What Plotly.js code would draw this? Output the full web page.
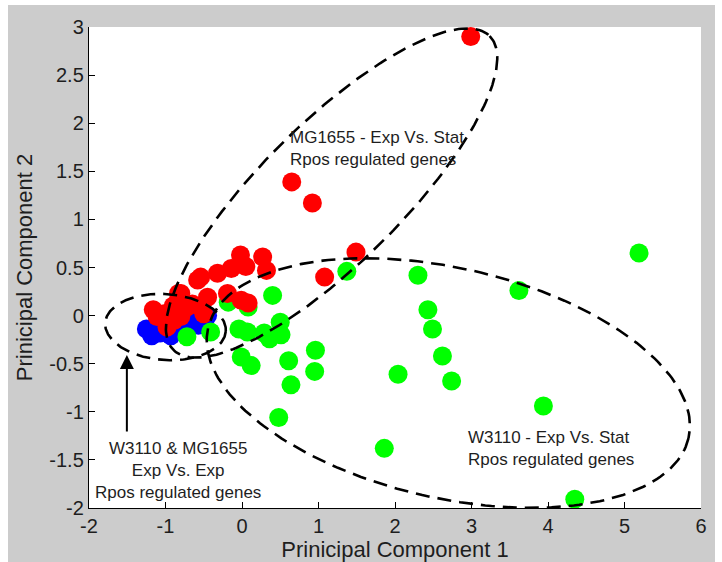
<!DOCTYPE html>
<html>
<head>
<meta charset="utf-8">
<script src="https://cdn.plot.ly/plotly-3.0.1.min.js"></script>
<style>
  html, body { margin: 0; padding: 0; background: #ffffff; }
  #chart { position: absolute; left: 8px; top: 5px; width: 707px; height: 557px; }
</style>
</head>
<body>
<div id="chart"></div>
<script>
// ---------- data ----------
const blueX = [-1.25, -1.18, -1.07, -0.93, -0.78, -0.64, -0.52, -0.45, -0.68, -1.12, -0.86, -0.57, -0.98];
const blueY = [-0.14, -0.21, -0.18, -0.21, -0.16, -0.09, -0.04, 0.00, 0.01, -0.11, -0.12, -0.10, -0.10];

const greenX = [5.19, 3.62, 2.30, 2.43, 2.49, 2.62, 2.74, 2.04, 3.94, 1.86, 4.35, 1.37,
                0.40, 0.07, -0.04, 0.50, 0.36, 0.51, 0.96, -0.01, 0.12, 0.61, 0.95, 0.64, 0.48,
                -0.41, -0.72, -0.18, 0.08, 0.29];
const greenY = [0.65, 0.26, 0.42, 0.06, -0.14, -0.42, -0.68, -0.61, -0.94, -1.38, -1.91, 0.46,
                0.21, -0.17, -0.14, -0.07, -0.24, -0.20, -0.36, -0.43, -0.52, -0.47, -0.58, -0.72, -1.06,
                -0.17, -0.22, 0.14, 0.09, -0.18];

const redX = [2.99, 0.65, 0.92, 1.49, 1.08, -0.02, 0.27, 0.32, 0.05, -0.14, -0.32, -0.54, -0.58,
              -0.19, -0.01, 0.08, -0.45, -0.80, -0.83, -0.85, -0.72, -0.54, -0.50,
              -1.16, -1.11, -1.02, -0.98, -0.89, -0.80, -0.65, -0.90];
const redY = [2.90, 1.39, 1.17, 0.66, 0.40, 0.63, 0.61, 0.47, 0.51, 0.49, 0.44, 0.40, 0.37,
              0.23, 0.16, 0.13, 0.19, 0.23, 0.23, 0.13, 0.09, 0.09, 0.02,
              0.06, -0.01, 0.02, -0.12, -0.05, -0.01, 0.12, 0.10];

// ellipses: centre, two conjugate semi-axis vectors (data units)
const ellMGCenter = [1.171, 1.274], ellMGA = [2.066, 1.632], ellMGB = [0.651, -0.515];
const ellW3Center = [2.697, -0.701], ellW3A = [3.140, -0.573], ellW3B = [-0.341, -1.164];
const ellExpCenter = [-1.0, -0.119], ellExpA = [0.788, -0.044], ellExpB = [-0.030, -0.342];

const xTickVals = [-2, -1, 0, 1, 2, 3, 4, 5, 6];
const xTickText = ['-2', '-1', '0', '1', '2', '3', '4', '5', '6'];
const yTickVals = [-2, -1.5, -1, -0.5, 0, 0.5, 1, 1.5, 2, 2.5, 3];
const yTickText = ['-2', '-1.5', '-1', '-0.5', '0', '0.5', '1', '1.5', '2', '2.5', '3'];

const labelMG = 'MG1655 - Exp Vs. Stat<br>Rpos regulated genes';
const labelW3 = 'W3110 - Exp Vs. Stat<br>Rpos regulated genes';
const labelExp = 'W3110 & MG1655<br>Exp Vs. Exp<br>Rpos regulated genes';

// ---------- build ----------
function ellipse(c, A, B) {
  const xs = [], ys = [];
  const n = 240;
  for (let i = 0; i <= n; i++) {
    const t = 2 * Math.PI * i / n;
    xs.push(c[0] + A[0] * Math.cos(t) + B[0] * Math.sin(t));
    ys.push(c[1] + A[1] * Math.cos(t) + B[1] * Math.sin(t));
  }
  return {x: xs, y: ys};
}

const mk = (x, y, color) => ({
  type: 'scatter', mode: 'markers', x: x, y: y, cliponaxis: false,
  marker: {size: 19, color: color, line: {width: 0}},
  hoverinfo: 'skip', showlegend: false
});
const lineStyle = {color: '#000000', width: 2.6, dash: '14px,8px'};
const ln = (e) => ({
  type: 'scatter', mode: 'lines', x: e.x, y: e.y, line: lineStyle,
  hoverinfo: 'skip', showlegend: false
});

const traces = [
  mk(blueX, blueY, '#0000ff'),
  mk(greenX, greenY, '#00ff00'),
  mk(redX, redY, '#ff0000'),
  ln(ellipse(ellMGCenter, ellMGA, ellMGB)),
  ln(ellipse(ellW3Center, ellW3A, ellW3B)),
  ln(ellipse(ellExpCenter, ellExpA, ellExpB))
];

const fontFam = '"Liberation Sans", Arial, sans-serif';
const annFont = {family: fontFam, size: 17, color: '#1e1e1e'};

const layout = {
  width: 707, height: 557,
  paper_bgcolor: '#cccccc',
  plot_bgcolor: '#ffffff',
  margin: {l: 81, r: 14, t: 22, b: 54},
  font: {family: fontFam, color: '#1e1e1e'},
  xaxis: {
    range: [-2, 6], tickvals: xTickVals, ticktext: xTickText,
    ticks: 'inside', ticklen: 6, tickcolor: '#000', showline: true, linecolor: '#000', linewidth: 1.2,
    showgrid: false, zeroline: false, tickfont: {size: 20, color: '#1e1e1e'},
    title: {text: 'Prinicipal Component 1', font: {size: 22, color: '#1e1e1e'}, standoff: 4}
  },
  yaxis: {
    range: [-2, 3], tickvals: yTickVals, ticktext: yTickText,
    ticks: 'inside', ticklen: 6, tickcolor: '#000', showline: true, linecolor: '#000', linewidth: 1.2,
    showgrid: false, zeroline: false, tickfont: {size: 20, color: '#1e1e1e'},
    title: {text: 'Prinicipal Component 2', font: {size: 22, color: '#1e1e1e'}, standoff: 10}
  },
  annotations: [
    {x: 0.605, y: 1.742, xref: 'x', yref: 'y', text: labelMG, showarrow: false,
     xanchor: 'left', yanchor: 'middle', align: 'left', font: annFont},
    {x: 2.934, y: -1.381, xref: 'x', yref: 'y', text: labelW3, showarrow: false,
     xanchor: 'left', yanchor: 'middle', align: 'left', font: annFont},
    {x: -0.842, y: -1.605, xref: 'x', yref: 'y', text: labelExp, showarrow: false,
     xanchor: 'center', yanchor: 'middle', align: 'center', font: annFont},
    {x: -1.505, y: -0.41, xref: 'x', yref: 'y', text: '', showarrow: true,
     ax: 0, ay: 78, arrowhead: 2, arrowsize: 1.4, arrowwidth: 2, arrowcolor: '#000'}
  ]
};

Plotly.newPlot('chart', traces, layout, {displayModeBar: false, staticPlot: true});
</script>
</body>
</html>
